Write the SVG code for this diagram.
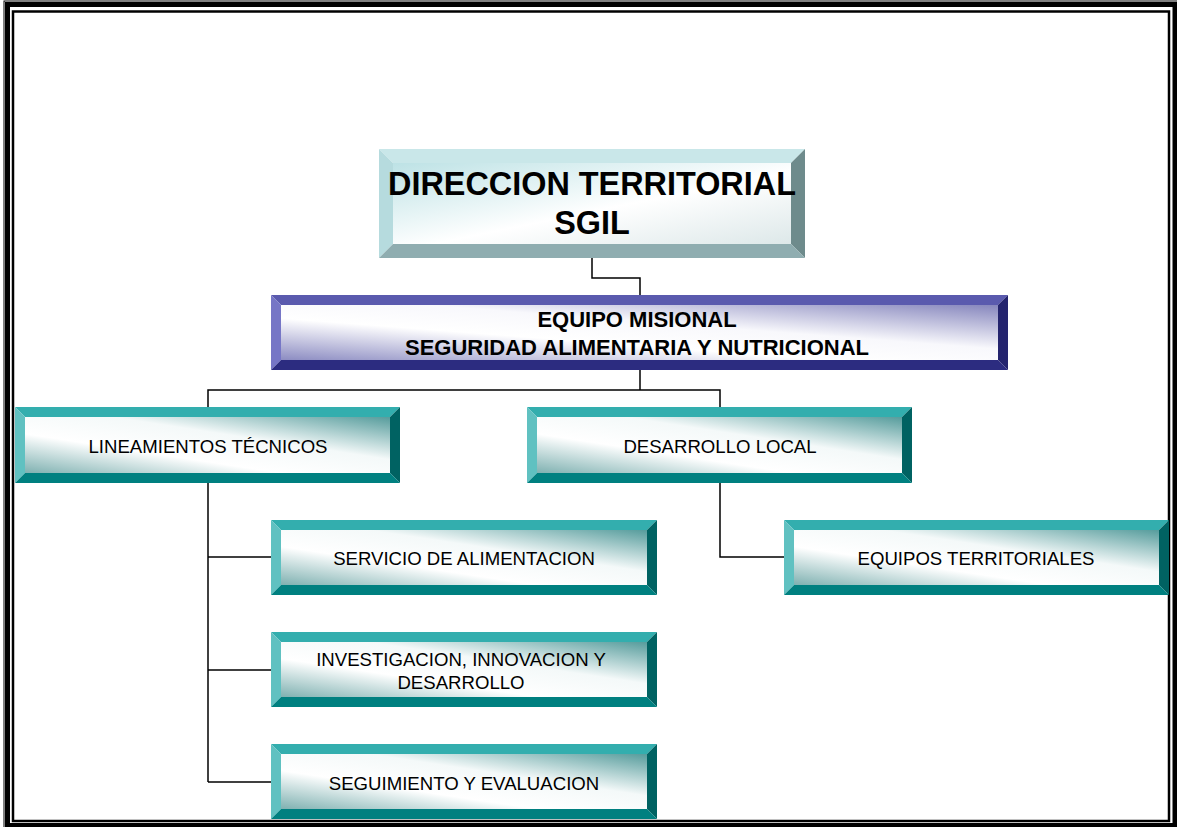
<svg xmlns="http://www.w3.org/2000/svg" width="1177" height="827" viewBox="0 0 1177 827">
<defs>
<linearGradient id="gTeal" x1="0" y1="1" x2="1" y2="0">
<stop offset="0" stop-color="#7fb1b1"/>
<stop offset="0.35" stop-color="#ffffff"/>
<stop offset="0.62" stop-color="#f4f9f9"/>
<stop offset="1" stop-color="#569c9c"/>
</linearGradient>
<linearGradient id="gBlue" x1="0" y1="1" x2="1" y2="0">
<stop offset="0" stop-color="#8c8cc2"/>
<stop offset="0.38" stop-color="#ffffff"/>
<stop offset="0.6" stop-color="#f8f8fc"/>
<stop offset="1" stop-color="#8686bd"/>
</linearGradient>
<linearGradient id="gCyan" x1="0" y1="0" x2="1" y2="1">
<stop offset="0" stop-color="#bde2e5"/>
<stop offset="0.55" stop-color="#ffffff"/>
<stop offset="1" stop-color="#dde8e9"/>
</linearGradient>
</defs>
<style>
.frame{fill:none;stroke:#000}
.conn{fill:none;stroke:#000;stroke-width:1.5}
.tT{fill:#33aeae}.tL{fill:#60c1c1}.tR{fill:#006262}.tB{fill:#008080}
.tF{fill:url(#gTeal)}
.bT{fill:#5a5aae}.bL{fill:#7676c6}.bR{fill:#24246e}.bB{fill:#2c2c80}
.bF{fill:url(#gBlue)}
.cT{fill:#c9e7e9}.cL{fill:#b6dbde}.cR{fill:#6e8b8c}.cB{fill:#8fadb0}
.cF{fill:url(#gCyan)}
.lbl{font-family:"Liberation Sans",Arial,sans-serif;font-size:18.6px;fill:#000;text-anchor:middle}
.lblB{font-family:"Liberation Sans",Arial,sans-serif;font-weight:bold;font-size:22px;fill:#000;text-anchor:middle}
.lblT{font-family:"Liberation Sans",Arial,sans-serif;font-weight:bold;font-size:32.4px;fill:#000;text-anchor:middle}
</style>
<rect x="0" y="0" width="1177" height="827" fill="#fff"/>
<g id="frame">
<rect class="frame" x="4" y="1" width="1185" height="840" stroke="#aaa" stroke-width="1"/>
<rect class="frame" x="7.5" y="4.5" width="1167.5" height="821" stroke-width="5"/>
<rect class="frame" x="13" y="11.5" width="1156" height="809.5" stroke-width="2.5"/>
</g>
<g id="connectors">
<polyline class="conn" points="592,258 592,278 640,278 640,295"/>
<line class="conn" x1="640" y1="370" x2="640" y2="390"/>
<polyline class="conn" points="208,407 208,390 720,390 720,407"/>
<line class="conn" x1="208" y1="483" x2="208" y2="782"/>
<line class="conn" x1="208" y1="557" x2="271" y2="557"/>
<line class="conn" x1="208" y1="670" x2="271" y2="670"/>
<line class="conn" x1="208" y1="782" x2="271" y2="782"/>
<polyline class="conn" points="720,483 720,557 784,557"/>
</g>
<g id="n-direccion">
<polygon class="cT" points="379,149 805,149 791,163 393,163"/>
<polygon class="cL" points="379,149 393,163 393,244 379,258"/>
<polygon class="cR" points="805,149 805,258 791,244 791,163"/>
<polygon class="cB" points="379,258 393,244 791,244 805,258"/>
<rect class="cF" x="393" y="163" width="398" height="81"/>
<text class="lblT" x="592" y="195">DIRECCION TERRITORIAL</text>
<text class="lblT" x="592" y="234">SGIL</text>
</g>
<g id="n-equipo">
<polygon class="bT" points="271,295 1008,295 998,305 281,305"/>
<polygon class="bL" points="271,295 281,305 281,360 271,370"/>
<polygon class="bR" points="1008,295 1008,370 998,360 998,305"/>
<polygon class="bB" points="271,370 281,360 998,360 1008,370"/>
<rect class="bF" x="281" y="305" width="717" height="55"/>
<text class="lblB" x="637" y="327">EQUIPO MISIONAL</text>
<text class="lblB" x="637" y="355">SEGURIDAD ALIMENTARIA Y NUTRICIONAL</text>
</g>
<g id="n-lineamientos">
<polygon class="tT" points="15,407 400,407 390,417 25,417"/>
<polygon class="tL" points="15,407 25,417 25,473 15,483"/>
<polygon class="tR" points="400,407 400,483 390,473 390,417"/>
<polygon class="tB" points="15,483 25,473 390,473 400,483"/>
<rect class="tF" x="25" y="417" width="365" height="56"/>
<text class="lbl" x="208" y="453">LINEAMIENTOS TÉCNICOS</text>
</g>
<g id="n-desarrollo">
<polygon class="tT" points="527,407 912,407 902,417 537,417"/>
<polygon class="tL" points="527,407 537,417 537,473 527,483"/>
<polygon class="tR" points="912,407 912,483 902,473 902,417"/>
<polygon class="tB" points="527,483 537,473 902,473 912,483"/>
<rect class="tF" x="537" y="417" width="365" height="56"/>
<text class="lbl" x="720" y="453">DESARROLLO LOCAL</text>
</g>
<g id="n-servicio">
<polygon class="tT" points="271,520 657,520 647,530 281,530"/>
<polygon class="tL" points="271,520 281,530 281,585 271,595"/>
<polygon class="tR" points="657,520 657,595 647,585 647,530"/>
<polygon class="tB" points="271,595 281,585 647,585 657,595"/>
<rect class="tF" x="281" y="530" width="366" height="55"/>
<text class="lbl" x="464" y="565">SERVICIO DE ALIMENTACION</text>
</g>
<g id="n-equipos-territoriales">
<polygon class="tT" points="784,520 1169,520 1159,530 794,530"/>
<polygon class="tL" points="784,520 794,530 794,585 784,595"/>
<polygon class="tR" points="1169,520 1169,595 1159,585 1159,530"/>
<polygon class="tB" points="784,595 794,585 1159,585 1169,595"/>
<rect class="tF" x="794" y="530" width="365" height="55"/>
<text class="lbl" x="976" y="565">EQUIPOS TERRITORIALES</text>
</g>
<g id="n-investigacion">
<polygon class="tT" points="271,632 657,632 647,642 281,642"/>
<polygon class="tL" points="271,632 281,642 281,697 271,707"/>
<polygon class="tR" points="657,632 657,707 647,697 647,642"/>
<polygon class="tB" points="271,707 281,697 647,697 657,707"/>
<rect class="tF" x="281" y="642" width="366" height="55"/>
<text class="lbl" x="461" y="666">INVESTIGACION, INNOVACION Y</text>
<text class="lbl" x="461" y="689">DESARROLLO</text>
</g>
<g id="n-seguimiento">
<polygon class="tT" points="271,744 657,744 647,754 281,754"/>
<polygon class="tL" points="271,744 281,754 281,809 271,819"/>
<polygon class="tR" points="657,744 657,819 647,809 647,754"/>
<polygon class="tB" points="271,819 281,809 647,809 657,819"/>
<rect class="tF" x="281" y="754" width="366" height="55"/>
<text class="lbl" x="464" y="790">SEGUIMIENTO Y EVALUACION</text>
</g>
</svg>
